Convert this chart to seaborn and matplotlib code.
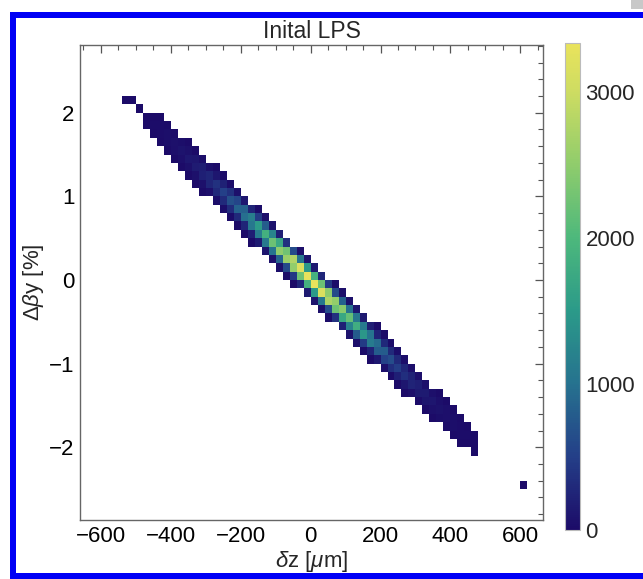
import numpy as np
import pandas as pd
import matplotlib
matplotlib.use("Agg")
import matplotlib.pyplot as plt
import seaborn as sns
from matplotlib.colors import LinearSegmentedColormap
from matplotlib.patches import Rectangle
from matplotlib.ticker import MultipleLocator

# ---- data: 2D histogram cells ----
# column centres (dz, um), centre of top filled cell in each column (dBy, %),
# and counts of the filled cells going downward in 0.1 % steps
col_z = [-530, -510, -490, -470, -450, -430, -410, -390, -370, -350,
         -330, -310, -290, -270, -250, -230, -210, -190, -170, -150,
         -130, -110, -90, -70, -50, -30, -10, 10, 30, 50,
         70, 90, 110, 130, 150, 170, 190, 210, 230, 250,
         270, 290, 310, 330, 350, 370, 390, 410, 430, 450,
         470, 610]
col_top = [2.15, 2.15, 2.05, 1.95, 1.95, 1.95, 1.85, 1.75, 1.65, 1.65,
           1.55, 1.45, 1.35, 1.35, 1.25, 1.15, 1.05, 0.95, 0.85, 0.85,
           0.75, 0.65, 0.55, 0.45, 0.35, 0.35, 0.25, 0.15, 0.05, -0.05,
           -0.05, -0.15, -0.25, -0.35, -0.45, -0.55, -0.55, -0.65, -0.75, -0.85,
           -0.95, -1.05, -1.15, -1.25, -1.35, -1.35, -1.45, -1.55, -1.65, -1.75,
           -1.85, -2.45]
col_counts = [
    [3], [3], [5], [10, 5], [11, 17, 7], [3, 21, 26, 7], [7, 36, 35, 7],
    [17, 56, 43, 6], [34, 83, 51, 5], [4, 62, 120, 58, 4],
    [11, 106, 160, 59, 2], [27, 171, 205, 54, 2], [54, 260, 248, 45],
    [4, 116, 376, 284, 38], [11, 213, 510, 307, 29], [25, 360, 675, 320, 19],
    [61, 566, 840, 296, 12], [130, 832, 972, 248, 9], [251, 1148, 1069, 185, 5],
    [18, 480, 1518, 1120, 144], [44, 798, 1868, 1083, 95],
    [90, 1238, 2228, 1013, 59], [200, 1742, 2500, 858, 34],
    [377, 2277, 2581, 609, 20], [630, 2772, 2520, 441, 13],
    [40, 1056, 3161, 2244, 264], [84, 1474, 3303, 1876, 151],
    [152, 1893, 3333, 1487, 85], [262, 2230, 3142, 1050, 39],
    [434, 2480, 2728, 620, 22], [20, 599, 2537, 2237, 370],
    [33, 842, 2453, 1709, 196], [57, 990, 2178, 1210, 88],
    [93, 1055, 1819, 777, 43], [140, 1085, 1471, 465, 17],
    [179, 1037, 1114, 243, 8], [8, 237, 927, 793, 124],
    [11, 279, 792, 533, 57], [18, 301, 636, 339, 24],
    [27, 289, 480, 201, 11], [35, 263, 348, 107, 4],
    [42, 231, 242, 50], [49, 186, 156, 25], [54, 145, 96, 10],
    [52, 108, 56, 4], [5, 47, 76, 31], [6, 40, 51, 15],
    [6, 32, 33, 6], [6, 23, 19, 3], [6, 15, 9], [4, 8, 4], [1],
]
bin_z = 20
bin_y = 0.1
x_ticks = [-600, -400, -200, 0, 200, 400, 600]
y_ticks = [-2, -1, 0, 1, 2]
cbar_ticks = [0, 1000, 2000, 3000]

rows = []
for z, top, counts in zip(col_z, col_top, col_counts):
    for k, c in enumerate(counts):
        rows.append((z, round(top - k * bin_y, 2), c))
df = pd.DataFrame(rows, columns=["z", "dby", "count"])

# ---- style ----
sns.set_theme(style="white")
plt.rcParams["font.family"] = ["Liberation Sans", "DejaVu Sans"]
plt.rcParams["mathtext.fontset"] = "custom"
plt.rcParams["mathtext.rm"] = "Liberation Sans"
plt.rcParams["mathtext.it"] = "Liberation Sans:italic"
plt.rcParams["axes.unicode_minus"] = True

cmap = LinearSegmentedColormap.from_list(
    "bgy",
    [(0.0, "#1c0b68"), (0.15, "#243f88"), (0.3, "#26728f"), (0.45, "#2b9a89"),
     (0.6, "#4db87c"), (0.75, "#8fcc6c"), (0.9, "#cddc62"), (1.0, "#e9e35c")])

W, H = 643, 579
fig = plt.figure(figsize=(W / 100, H / 100), dpi=100)
fig.patch.set_facecolor("white")

ax = fig.add_axes([80 / W, 1 - 520 / H, (543 - 80) / W, (520 - 45) / H])
cax = fig.add_axes([565 / W, 1 - 530 / H, 15 / W, (530 - 43) / H])

xedges = np.arange(-540, 621, bin_z)
yedges = np.round(np.arange(-2.5, 2.21, bin_y), 2)

sns.histplot(data=df, x="z", y="dby", weights="count", bins=[xedges, yedges],
             cmap=cmap, vmin=0, vmax=3333, cbar=True, cbar_ax=cax, ax=ax)

ax.set_xlim(-660, 665)
ax.set_ylim(-2.87, 2.81)
ax.set_xticks(x_ticks)
ax.set_yticks(y_ticks)
ax.xaxis.set_minor_locator(MultipleLocator(50))
ax.yaxis.set_minor_locator(MultipleLocator(0.2))
ax.tick_params(which="both", direction="in", top=True, right=True,
               color="#555555", labelsize=16, labelcolor="black", pad=4)
ax.tick_params(which="major", length=6, width=0.9)
ax.tick_params(which="minor", length=3.5, width=0.8)
for s in ax.spines.values():
    s.set_visible(True)
    s.set_color("#666666")
    s.set_linewidth(1.0)

ax.set_title("Inital LPS", fontsize=16.5, pad=5)
ax.set_xlabel(r"$\delta$z [$\mu$m]", fontsize=16, labelpad=2)
ax.set_ylabel(r"Δ$\beta$y [%]", fontsize=16, labelpad=2)

cax.set_yticks(cbar_ticks)
cax.yaxis.set_minor_locator(MultipleLocator(250))
cax.tick_params(which="both", direction="in", color="#c8c8c8", labelsize=16,
                right=True, left=False, pad=4)
cax.tick_params(which="major", length=4)
cax.tick_params(which="minor", length=2.5)
for s in cax.spines.values():
    s.set_edgecolor("#bbbbbb")
    s.set_linewidth(0.8)

# screenshot frame (blue) and corner box
blue = "#0000f5"
fig.add_artist(Rectangle((10 / W, 1 - 18 / H), 1, 6 / H, transform=fig.transFigure,
                         color=blue, lw=0))
fig.add_artist(Rectangle((10 / W, 0), 6 / W, 1 - 12 / H, transform=fig.transFigure,
                         color=blue, lw=0))
fig.add_artist(Rectangle((10 / W, 0), 1, 6 / H, transform=fig.transFigure,
                         color=blue, lw=0))
fig.add_artist(Rectangle((631 / W, 1 - 9 / H), 12 / W, 9 / H, transform=fig.transFigure,
                         color="#c8c8c8", lw=0))

fig.savefig("out.png", dpi=100)
